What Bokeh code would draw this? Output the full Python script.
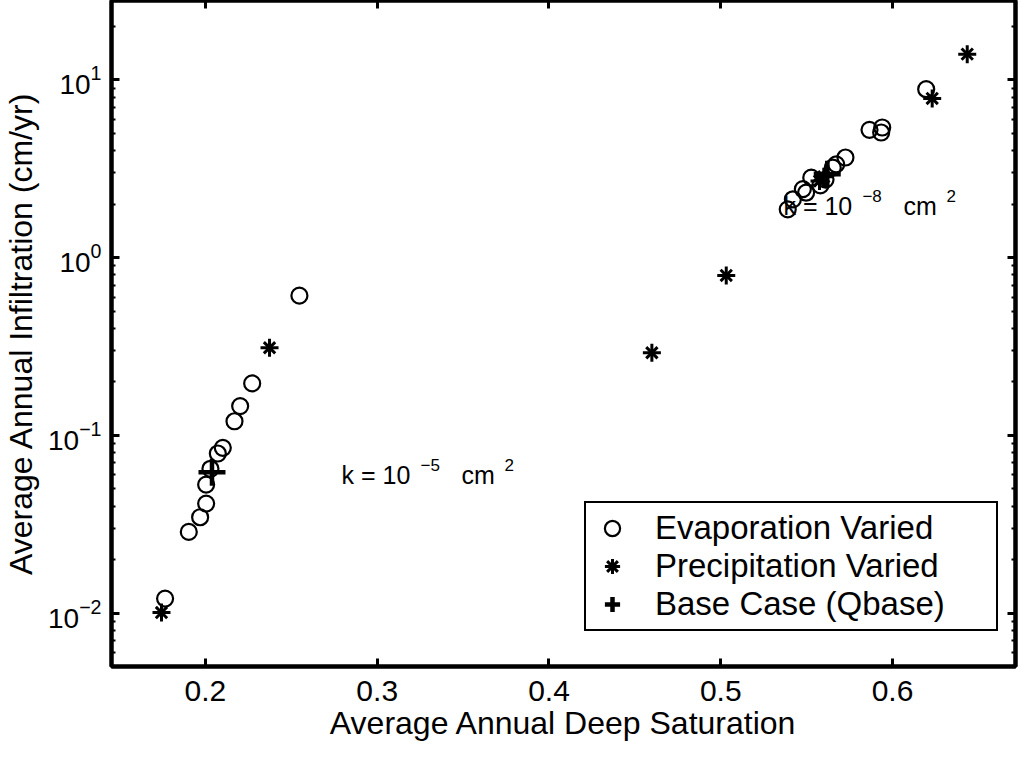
from bokeh.plotting import figure
from bokeh.models import (ColumnDataSource, FixedTicker, LogTicker, LinearAxis, LogAxis,
                          Legend, LegendItem, Label, Range1d, CustomJSTickFormatter)
from bokeh.embed import file_html
from bokeh.resources import INLINE

# ---- data ----
evap_x = [0.1765, 0.1903, 0.1969, 0.2004, 0.2004, 0.2029, 0.2072, 0.2101, 0.2169, 0.2202,
          0.2272, 0.2547,
          0.5390, 0.5420, 0.5478, 0.5497, 0.5527, 0.5580, 0.5610, 0.5652, 0.5672, 0.5726,
          0.5866, 0.5940, 0.5934, 0.6196]
evap_y = [0.01205, 0.0286, 0.0346, 0.0413, 0.0528, 0.0648, 0.079, 0.085, 0.120, 0.146,
          0.196, 0.611,
          1.87, 2.13, 2.43, 2.32, 2.82, 2.55, 2.75, 3.21, 3.35, 3.66,
          5.24, 5.40, 5.06, 8.87]

precip_x = [0.1744, 0.2373, 0.4599, 0.5032, 0.5575, 0.5600, 0.6231, 0.6435]
precip_y = [0.01006, 0.311, 0.2916, 0.794, 2.70, 2.85, 7.87, 13.97]

base_x = [0.2038, 0.5620]
base_y = [0.062, 2.95]

x_ticks = [0.2, 0.3, 0.4, 0.5, 0.6]
legend_labels = ["Evaporation Varied", "Precipitation Varied", "Base Case (Qbase)"]
x_label = "Average Annual Deep Saturation"
y_label = "Average Annual Infiltration (cm/yr)"

FONT = "Liberation Sans"

p = figure(frame_width=904, frame_height=666, output_backend="svg", toolbar_location=None,
           x_range=Range1d(0.1453, 0.6716), y_range=Range1d(0.005, 28),
           y_axis_type="log",
           min_border_left=104, min_border_right=4, min_border_top=0, min_border_bottom=70)

p.background_fill_color = "white"
p.border_fill_color = "white"
p.outline_line_color = "black"
p.outline_line_width = 4
p.xgrid.visible = False
p.ygrid.visible = False

xa = p.xaxis[0]
ya = p.yaxis[0]
xa.ticker = FixedTicker(ticks=x_ticks)
xa.axis_label = x_label
for ax in [xa, ya]:
    ax.axis_line_width = 4
    ax.major_tick_in = 8
    ax.major_tick_out = 0
    ax.major_tick_line_width = 3
    ax.major_label_text_font = FONT
    ax.major_label_text_color = "black"
    ax.axis_label_text_font = FONT
    ax.axis_label_text_font_size = "32px"
    ax.axis_label_text_font_style = "normal"
    ax.axis_label_text_color = "black"
xa.major_label_text_font_size = "30px"
ya.major_label_text_font_size = "28px"
xa.minor_tick_in = 0
xa.minor_tick_out = 0
xa.major_label_standoff = 14
xa.axis_label_standoff = 1

ya.ticker = LogTicker(num_minor_ticks=10)
ya.axis_label = y_label
ya.minor_tick_in = 4
ya.minor_tick_out = 0
ya.minor_tick_line_width = 2
ya.major_label_standoff = 10
ya.axis_label_standoff = 6

top = LinearAxis(ticker=FixedTicker(ticks=x_ticks), formatter=CustomJSTickFormatter(code="return ''"),
                 major_tick_in=8, major_tick_out=0, major_tick_line_width=3,
                 minor_tick_in=0, minor_tick_out=0, axis_line_width=4, major_label_standoff=0)
p.add_layout(top, "above")
right = LogAxis(ticker=LogTicker(num_minor_ticks=10), formatter=CustomJSTickFormatter(code="return ''"),
                major_tick_in=8, major_tick_out=0, major_tick_line_width=3,
                minor_tick_in=4, minor_tick_out=0, minor_tick_line_width=2,
                axis_line_width=4, major_label_standoff=0)
p.add_layout(right, "right")

src_e = ColumnDataSource(dict(x=evap_x, y=evap_y))
src_p = ColumnDataSource(dict(x=precip_x, y=precip_y))
src_b = ColumnDataSource(dict(x=base_x, y=base_y))

r_e = p.scatter("x", "y", source=src_e, marker="circle", size=16,
                fill_color=None, line_color="black", line_width=2.2)
r_p1 = p.scatter("x", "y", source=src_p, marker="cross", size=18,
                 line_color="black", line_width=3)
r_p2 = p.scatter("x", "y", source=src_p, marker="x", size=16,
                 line_color="black", line_width=3)
r_b = p.scatter("x", "y", source=src_b, marker="cross", size=27,
                line_color="black", line_width=4.5)

def k_label(x, y, expo):
    common = dict(x=x, y=y, text_font=FONT, text_color="black", text_baseline="alphabetic")
    p.add_layout(Label(text="k = 10", text_font_size="25px", **common))
    p.add_layout(Label(text=expo, x_offset=79, y_offset=10, text_font_size="17px", **common))
    p.add_layout(Label(text="cm", x_offset=120, text_font_size="25px", **common))
    p.add_layout(Label(text="2", x_offset=163, y_offset=10, text_font_size="17px", **common))

k_label(0.2792, 0.0599, "\u22125")
k_label(0.5365, 1.963, "\u22128")

legend = Legend(items=[LegendItem(label=legend_labels[0], renderers=[r_e]),
                       LegendItem(label=legend_labels[1], renderers=[r_p1, r_p2]),
                       LegendItem(label=legend_labels[2], renderers=[r_b])],
                location=(473, 35),
                label_text_font=FONT, label_text_font_size="33px",
                label_text_color="black", label_text_baseline="middle",
                border_line_color="black", border_line_width=2, border_line_alpha=1.0,
                background_fill_color="white", background_fill_alpha=1.0,
                glyph_width=40, glyph_height=38, label_height=36, label_width=335,
                spacing=0, padding=6, label_standoff=23)
p.add_layout(legend, "center")

open("out.html", "w").write(file_html(p, INLINE))
